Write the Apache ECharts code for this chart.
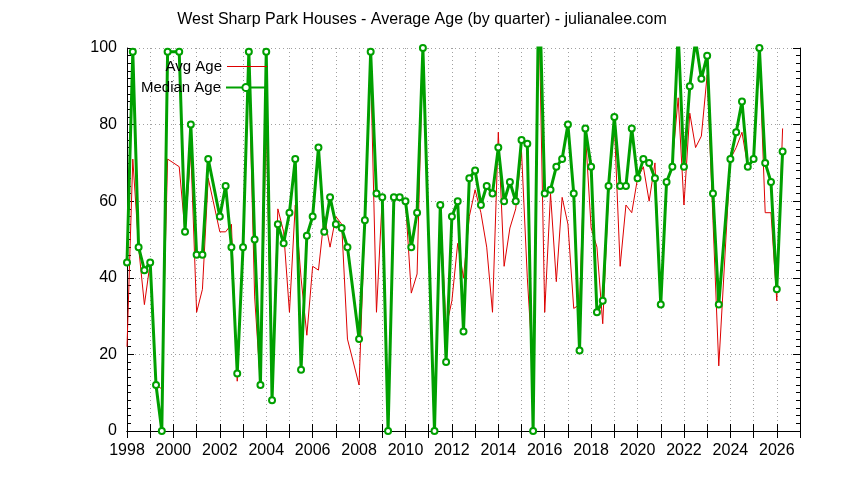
<!DOCTYPE html>
<html>
<head>
<meta charset="utf-8">
<script src="https://cdn.jsdelivr.net/npm/echarts@6/dist/echarts.min.js"></script>
<style>html,body{margin:0;padding:0;background:#fff}#c{width:844px;height:480px}</style>
</head>
<body>
<div id="c"></div>
<script>
const quarters = [1998.00,1998.25,1998.50,1998.75,1999.00,1999.25,1999.50,1999.75,2000.25,2000.50,2000.75,2001.00,2001.25,2001.50,2002.00,2002.25,2002.50,2002.75,2003.00,2003.25,2003.50,2003.75,2004.00,2004.25,2004.50,2004.75,2005.00,2005.25,2005.50,2005.75,2006.00,2006.25,2006.50,2006.75,2007.00,2007.25,2007.50,2008.00,2008.25,2008.50,2008.75,2009.00,2009.25,2009.50,2009.75,2010.00,2010.25,2010.50,2010.75,2011.25,2011.50,2011.75,2012.00,2012.25,2012.50,2012.75,2013.00,2013.25,2013.50,2013.75,2014.00,2014.25,2014.50,2014.75,2015.00,2015.25,2015.50,2015.75,2016.00,2016.25,2016.50,2016.75,2017.00,2017.25,2017.50,2017.75,2018.00,2018.25,2018.50,2018.75,2019.00,2019.25,2019.50,2019.75,2020.00,2020.25,2020.50,2020.75,2021.00,2021.25,2021.50,2021.75,2022.00,2022.25,2022.50,2022.75,2023.00,2023.25,2023.50,2024.00,2024.25,2024.50,2024.75,2025.00,2025.25,2025.50,2025.75,2026.00,2026.25];
const medianAge = [44,99,48,42,44,12,0,99,99,52,80,46,46,71,56,64,48,15,48,99,50,12,99,8,54,49,57,71,16,51,56,74,52,61,54,53,48,24,55,99,62,61,0,61,61,60,48,57,100,0,59,18,56,60,26,66,68,59,64,62,74,60,65,60,76,75,0,120,62,63,69,71,80,62,21,79,69,31,34,64,82,64,64,79,66,71,70,66,33,65,69,104,69,90,102,92,98,62,33,71,78,86,69,71,100,70,65,37,73];
const avgAge = [22,71,48,33,44,12,11,71,69,52,73,31,37,66,52,52,54,13,48,95,35,12,81,10,58,52,31,59,40,25,43,42,56,48,56,54,24,12,55,95,31,61,0,61,61,60,36,41,100,0,59,27,34,49,40,56,63,57,48,31,78,43,53,58,73,40,15,110,31,62,39,61,54,32,33,78,53,48,28,62,80,43,59,57,66,69,60,70,33,64,70,87,59,83,74,77,93,55,17,71,74,78,69,71,98,57,57,34,79];
const yTicks = [0,20,40,60,80,100];

const chart = echarts.init(document.getElementById('c'), null, {renderer:'canvas'});
const font = 'Liberation Sans, Arial, sans-serif';
const avgData = quarters.map((q,i)=>[q, avgAge[i]]);
const medData = quarters.map((q,i)=>[q, medianAge[i]]);
const gridLine = {show:true, lineStyle:{color:'#a0a0a0', type:[1,3], width:1}};
chart.setOption({
  animation:false,
  title:{text:'West Sharp Park Houses - Average Age (by quarter) - julianalee.com', left:'center', top:7,
    textStyle:{fontFamily:font, fontSize:16, fontWeight:'normal', color:'#000'}},
  legend:[
    {data:[{name:'Avg Age', icon:'rect'}], orient:'vertical', right:572, top:54, align:'right', itemWidth:40, itemHeight:1,
     textStyle:{fontFamily:font, fontSize:15, color:'#000'}},
    {data:['Median Age'], orient:'vertical', right:572, top:75, align:'right', itemWidth:40, itemHeight:9,
     textStyle:{fontFamily:font, fontSize:15, color:'#000'}}
  ],
  grid:{left:127, right:44, top:48, bottom:49},
  xAxis:[
    {type:'value', min:1998, max:2027, interval:1,
     axisLine:{show:true, lineStyle:{color:'#000', width:1}},
     axisTick:{show:true, inside:true, length:7, lineStyle:{color:'#000'}},
     axisLabel:{color:'#000', fontFamily:font, fontSize:16, margin:12,
       formatter:v=> (v%2===0 && v<2027) ? String(v) : ''},
     splitLine:gridLine},
    {type:'value', position:'top', min:1998, max:2027, interval:1,
     axisLine:{show:true, lineStyle:{color:'#000', width:1}},
     axisTick:{show:true, inside:true, length:7, lineStyle:{color:'#000'}},
     axisLabel:{show:false}, splitLine:{show:false}}
  ],
  yAxis:[
    {type:'value', min:yTicks[0], max:yTicks[yTicks.length-1], interval:20,
     axisLine:{show:true, lineStyle:{color:'#000', width:1}},
     axisTick:{show:true, inside:true, length:7, lineStyle:{color:'#000'}},
     minorTick:{show:true, splitNumber:10, length:4, lineStyle:{color:'#000'}},
     axisLabel:{color:'#000', fontFamily:font, fontSize:16, margin:10},
     splitLine:gridLine},
    {type:'value', position:'right', min:yTicks[0], max:yTicks[yTicks.length-1], interval:20,
     axisLine:{show:true, lineStyle:{color:'#000', width:1}},
     axisTick:{show:true, inside:true, length:7, lineStyle:{color:'#000'}},
     minorTick:{show:true, splitNumber:10, length:4, lineStyle:{color:'#000'}},
     axisLabel:{show:false}, splitLine:{show:false}}
  ],
  series:[
    {name:'Avg Age', type:'line', data:avgData, symbol:'none', clip:true,
     lineStyle:{color:'#dd0000', width:1}, itemStyle:{color:'#dd0000'}},
    {name:'Median Age', type:'line', data:medData, symbol:'emptyCircle', symbolSize:6, clip:true,
     lineStyle:{color:'#00a000', width:3}, itemStyle:{color:'#00a000', borderWidth:2}}
  ]
});
</script>
</body>
</html>
